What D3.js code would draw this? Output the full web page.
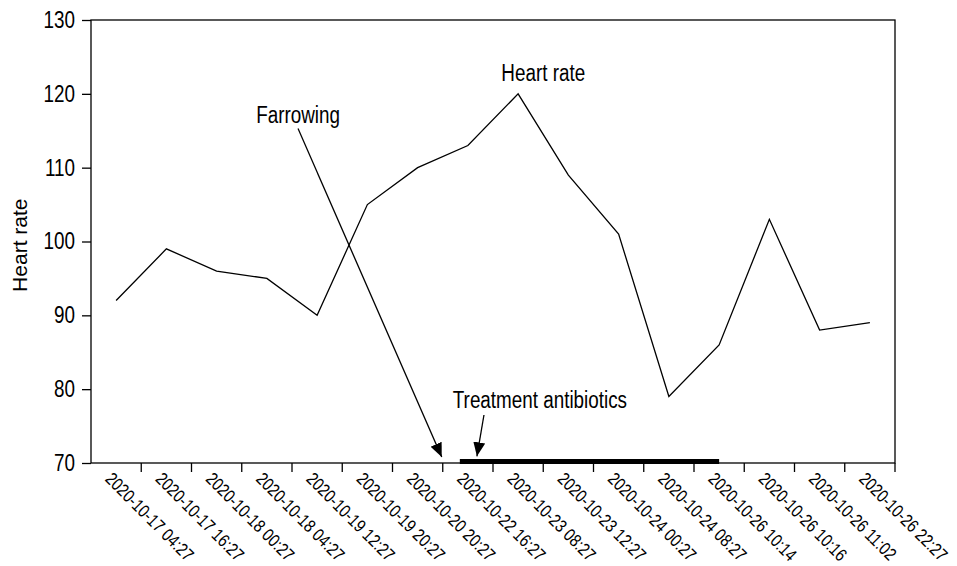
<!DOCTYPE html>
<html>
<head>
<meta charset="utf-8">
<script src="https://cdn.jsdelivr.net/npm/d3@7"></script>
<style>
  body { margin: 0; background: #fff; }
  text { fill: #000; font-family: "Liberation Sans", Arial, sans-serif; }
</style>
</head>
<body>
<div id="chart"></div>
<script>
// sample times (x categories) and heart rate readings
const times = [
  "2020-10-17 04:27", "2020-10-17 16:27", "2020-10-18 00:27", "2020-10-18 04:27",
  "2020-10-19 12:27", "2020-10-19 20:27", "2020-10-20 20:27", "2020-10-22 16:27",
  "2020-10-23 08:27", "2020-10-23 12:27", "2020-10-24 00:27", "2020-10-24 08:27",
  "2020-10-26 10:14", "2020-10-26 10:16", "2020-10-26 11:02", "2020-10-26 22:27"
];
const heartRate = [92, 99, 96, 95, 90, 105, 110, 113, 120, 109, 101, 79, 86, 103, 88, 89];
const yTicks = [70, 80, 90, 100, 110, 120, 130];

// treatment period, in category-index units (centre of category = integer)
const treatment = [6.84, 12];

// annotations: label position and arrow target, in index / value units
const annotations = [
  { text: "Heart rate", lx: 8.5, ly: 121.8, anchor: "middle" },
  { text: "Farrowing", lx: 3.62, ly: 116.1, anchor: "middle",
    from: [3.62, 115.3], to: [6.48, 70.8] },
  { text: "Treatment antibiotics", lx: 6.7, ly: 77.45, anchor: "start",
    from: [7.32, 76.5], to: [7.18, 70.9] }
];

const squeeze = 0.82; // the original font is a condensed sans

const W = 957, H = 566;
const margin = { top: 20, right: 62, bottom: 103, left: 91 };
const width = W - margin.left - margin.right,
  height = H - margin.top - margin.bottom;

const svg = d3.select("#chart").append("svg")
  .attr("width", W)
  .attr("height", H);

svg.append("defs").append("marker")
  .attr("id", "arrow")
  .attr("viewBox", "0 0 14 14")
  .attr("refX", 14)
  .attr("refY", 7)
  .attr("markerWidth", 14)
  .attr("markerHeight", 14)
  .attr("markerUnits", "userSpaceOnUse")
  .attr("orient", "auto")
  .append("path")
  .attr("d", "M0,1 L14,7 L0,13 Z")
  .attr("fill", "#000");

const g = svg.append("g")
  .attr("transform", `translate(${margin.left},${margin.top})`);

const x = d3.scaleBand().domain(times).range([0, width]);
const xi = d3.scaleLinear().domain([-0.5, times.length - 0.5]).range([0, width]);
const y = d3.scaleLinear().domain([70, 130]).range([height, 0]);

// frame
g.append("rect")
  .attr("width", width)
  .attr("height", height)
  .attr("fill", "none")
  .attr("stroke", "#000")
  .attr("stroke-width", 1.3);

// y axis
const yAxis = g.append("g")
  .call(d3.axisLeft(y).tickValues(yTicks).tickSize(9).tickPadding(6));
yAxis.select(".domain").remove();
yAxis.attr("font-family", null).attr("font-size", null);
yAxis.selectAll("line").attr("stroke", "#000").attr("stroke-width", 1.3);
yAxis.selectAll("text")
  .attr("x", -16 / squeeze)
  .attr("transform", `scale(${squeeze},1)`)
  .style("font-size", "23px")
  .attr("fill", "#000");

// x axis ticks at category boundaries
const bounds = d3.range(1, times.length + 1).map((i) => xi(i - 0.5));
g.append("g")
  .selectAll("line")
  .data(bounds)
  .join("line")
  .attr("x1", (d) => d)
  .attr("x2", (d) => d)
  .attr("y1", height)
  .attr("y2", height + 9)
  .attr("stroke", "#000")
  .attr("stroke-width", 1.3);

g.append("g")
  .selectAll("text")
  .data(times)
  .join("text")
  .attr("transform", (d) =>
    `translate(${x(d) + x.bandwidth() / 2 - 12},${height + 17}) rotate(45) scale(${squeeze},1)`)
  .style("font-size", "18px")
  .text((d) => d);

// y label
svg.append("text")
  .attr("transform", `translate(27,${margin.top + y(99.5)}) rotate(-90)`)
  .attr("text-anchor", "middle")
  .style("font-size", "21px")
  .text("Heart rate");

// treatment bar
g.append("line")
  .attr("x1", xi(treatment[0]))
  .attr("x2", xi(treatment[1]))
  .attr("y1", height - 1.5)
  .attr("y2", height - 1.5)
  .attr("stroke", "#000")
  .attr("stroke-width", 5);

// heart rate line
const line = d3.line()
  .x((d, i) => x(times[i]) + x.bandwidth() / 2)
  .y((d) => y(d));

g.append("path")
  .datum(heartRate)
  .attr("d", line)
  .attr("fill", "none")
  .attr("stroke", "#000")
  .attr("stroke-width", 1.3);

// annotations
annotations.forEach((a) => {
  g.append("text")
    .attr("transform", `translate(${xi(a.lx)},${y(a.ly)}) scale(${squeeze},1)`)
    .attr("text-anchor", a.anchor)
    .style("font-size", "23px")
    .text(a.text);
  if (a.from) {
    g.append("line")
      .attr("x1", xi(a.from[0]))
      .attr("y1", y(a.from[1]))
      .attr("x2", xi(a.to[0]))
      .attr("y2", y(a.to[1]))
      .attr("stroke", "#000")
      .attr("stroke-width", 1.3)
      .attr("marker-end", "url(#arrow)");
  }
});
</script>
</body>
</html>
